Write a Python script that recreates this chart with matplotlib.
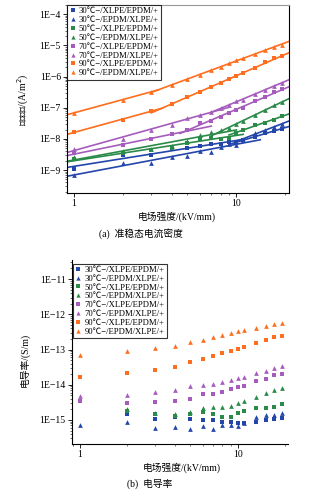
import numpy as np
import matplotlib
matplotlib.use('Agg')
import matplotlib.pyplot as plt
from matplotlib.ticker import FixedLocator, FuncFormatter, LogLocator, NullFormatter

plt.rcParams['font.family'] = ['Liberation Serif', 'Noto Sans CJK SC']
plt.rcParams['axes.unicode_minus'] = True

# 电场强度 kV/mm
campo = [1, 2, 3, 4, 5, 6, 7, 8, 9, 10, 11, 13, 15, 17, 19]

rotulos = ['30℃−/XLPE/EPDM/+', '30℃−/EPDM/XLPE/+',
           '50℃−/XLPE/EPDM/+', '50℃−/EPDM/XLPE/+',
           '70℃−/XLPE/EPDM/+', '70℃−/EPDM/XLPE/+',
           '90℃−/XLPE/EPDM/+', '90℃−/EPDM/XLPE/+']

# (a) 准稳态电流密度 A/m^2
j30_xe = [1.05e-9, 3.0e-9, 3.15e-9, 4.8e-9, 5.25e-9, 6.0e-9, 7.0e-9, 6.9e-9, 7.7e-9, 8.0e-9, 9.2e-9, 1.12e-8, 1.5e-8, 1.85e-8, 2.13e-8]
j30_ex = [7.2e-10, 1.74e-9, 1.74e-9, 2.56e-9, 2.85e-9, 4.1e-9, 3.85e-9, 5.7e-9, 6.7e-9, 6.6e-9, 9.2e-9, 1.6e-8, 2.0e-8, 2.36e-8, 2.95e-8]
j50_xe = [2.2e-9, 3.5e-9, 4.35e-9, 5.2e-9, 7.25e-9, 9.9e-9, 1.04e-8, 9.6e-9, 1.1e-8, 1.55e-8, 2.0e-8, 2.8e-8, 3.35e-8, 4.1e-8, 5.4e-8]
j50_ex = [2.7e-9, 4.0e-9, 4.8e-9, 5.8e-9, 8.5e-9, 1.32e-8, 1.68e-8, 1.92e-8, 2.25e-8, 3.0e-8, 3.8e-8, 5.7e-8, 8.55e-8, 1.2e-7, 1.54e-7]
j70_xe = [3.5e-9, 6.2e-9, 9.6e-9, 1.4e-8, 2.0e-8, 3.3e-8, 3.9e-8, 4.9e-8, 6.7e-8, 8.5e-8, 1.01e-7, 1.64e-7, 2.25e-7, 3.2e-7, 3.9e-7]
j70_ex = [4.9e-9, 1.02e-8, 1.9e-8, 2.85e-8, 4.55e-8, 5.9e-8, 7.35e-8, 9.6e-8, 1.26e-7, 1.6e-7, 1.8e-7, 2.85e-7, 3.75e-7, 5.1e-7, 6.3e-7]
j90_xe = [1.63e-8, 4.2e-8, 7.95e-8, 1.28e-7, 2.15e-7, 3.2e-7, 4.55e-7, 6.3e-7, 8.1e-7, 1.04e-6, 1.28e-6, 1.95e-6, 2.9e-6, 4.0e-6, 4.6e-6]
j90_ex = [6.9e-8, 1.8e-7, 3.3e-7, 5.2e-7, 8.3e-7, 1.15e-6, 1.6e-6, 2.1e-6, 2.65e-6, 3.3e-6, 3.9e-6, 5.5e-6, 7.2e-6, 9.1e-6, 1.05e-5]

# (b) 电导率 S/m (nan = ponto não visível)
s30_xe = [np.nan, 1.5e-15, 1.05e-15, 1.2e-15, 1.05e-15, 1.0e-15, 1.0e-15, 8.6e-16, 8.6e-16, 8.0e-16, 8.4e-16, 8.6e-16, 1.0e-15, 1.09e-15, 1.12e-15]
s30_ex = [7.2e-16, 8.7e-16, 5.8e-16, 6.4e-16, 5.7e-16, 6.9e-16, 5.5e-16, 7.1e-16, 7.4e-16, 6.6e-16, 8.4e-16, 1.24e-15, 1.36e-15, 1.39e-15, 1.55e-15]
s50_xe = [np.nan, 1.75e-15, 1.45e-15, 1.3e-15, 1.45e-15, 1.65e-15, 1.48e-15, 1.2e-15, 1.22e-15, 1.55e-15, 1.84e-15, 2.15e-15, 2.23e-15, 2.4e-15, 2.84e-15]
s50_ex = [np.nan, 2.0e-15, 1.6e-15, 1.45e-15, 1.7e-15, 2.2e-15, 2.4e-15, 2.4e-15, 2.5e-15, 3.0e-15, 3.45e-15, 4.4e-15, 5.7e-15, 7.1e-15, 8.1e-15]
s70_xe = [3.5e-15, 3.1e-15, 3.2e-15, 3.5e-15, 4.0e-15, 5.5e-15, 5.6e-15, 6.1e-15, 7.4e-15, 8.5e-15, 9.2e-15, 1.26e-14, 1.5e-14, 1.9e-14, 2.04e-14]
s70_ex = [4.9e-15, 5.1e-15, 6.3e-15, 7.1e-15, 9.1e-15, 9.9e-15, 1.05e-14, 1.2e-14, 1.4e-14, 1.6e-14, 1.65e-14, 2.2e-14, 2.5e-14, 3.0e-14, 3.3e-14]
s90_xe = [1.63e-14, 2.1e-14, 2.65e-14, 3.2e-14, 4.3e-14, 5.3e-14, 6.5e-14, 7.9e-14, 9.0e-14, 1.04e-13, 1.16e-13, 1.5e-13, 1.92e-13, 2.34e-13, 2.44e-13]
s90_ex = [6.9e-14, 9.0e-14, 1.1e-13, 1.3e-13, 1.66e-13, 1.92e-13, 2.28e-13, 2.6e-13, 2.95e-13, 3.3e-13, 3.55e-13, 4.2e-13, 4.8e-13, 5.35e-13, 5.5e-13]

cores = ['#2346aa', '#2346aa', '#2a8a48', '#2a8a48', '#a65cbc', '#a65cbc', '#ff6e1e', '#ff6e1e']
marcadores = ['s', '^'] * 4

J = [j30_xe, j30_ex, j50_xe, j50_ex, j70_xe, j70_ex, j90_xe, j90_ex]
S = [s30_xe, s30_ex, s50_xe, s50_ex, s70_xe, s70_ex, s90_xe, s90_ex]

# ajuste em dois trechos: (campo de quebra, fim do 1º trecho, início do 2º trecho)
trechos = [(10, 11, 9), (11, 14, 10), (10, 11, 9), (8, 10, 7),
           (5, 7, 4.5), (8, 9, 7), (3, 3.5, 3), (3, 3.3, 3)]

x = np.array(campo, dtype=float)
XMIN, XMAX = 0.91, 21


def fmt_y(v, pos):
    n = int(round(np.log10(v)))
    return '1E−%d' % (-n)


def estilo(ax):
    ax.set_xscale('log')
    ax.set_yscale('log')
    ax.xaxis.set_major_locator(FixedLocator([1, 10]))
    ax.xaxis.set_major_formatter(FuncFormatter(lambda v, p: '%d' % v))
    ax.xaxis.set_minor_locator(LogLocator(base=10, subs=np.arange(2, 10)))
    ax.xaxis.set_minor_formatter(NullFormatter())
    ax.yaxis.set_major_formatter(FuncFormatter(fmt_y))
    ax.yaxis.set_minor_locator(LogLocator(base=10, subs=np.arange(2, 10)))
    ax.yaxis.set_minor_formatter(NullFormatter())
    ax.tick_params(which='major', direction='out', length=3, width=0.6, labelsize=7, pad=1.5)
    ax.tick_params(which='minor', direction='out', length=1.5, width=0.4)
    for s in ax.spines.values():
        s.set_linewidth(0.8)


def legenda(ax, **kw):
    lg = ax.legend(loc='upper left', fontsize=6.2, frameon=True, fancybox=False,
                   edgecolor='black', borderpad=0.25, labelspacing=0.1,
                   handletextpad=0.3, handlelength=0.8, markerscale=0.9, **kw)
    lg.get_frame().set_linewidth(0.8)
    return lg


fig = plt.figure(figsize=(3.21, 4.97), dpi=100)

# ---------- (a) ----------
ax1 = fig.add_axes([0.209, 0.612, 0.691, 0.378])
for i in range(8):
    yi = np.array(J[i])
    ax1.plot(x, yi, marcadores[i], color=cores[i], ms=3.4, mew=0, label=rotulos[i], zorder=3)
    xb, fim1, ini2 = trechos[i]
    lo = x <= xb
    hi = x >= xb
    c1 = np.polyfit(np.log10(x[lo]), np.log10(yi[lo]), 1)
    c2 = np.polyfit(np.log10(x[hi]), np.log10(yi[hi]), 1)
    xs1 = np.array([XMIN, fim1])
    xs2 = np.array([ini2, XMAX])
    ax1.plot(xs1, 10 ** np.polyval(c1, np.log10(xs1)), '-', color=cores[i], lw=1.2, zorder=2)
    ax1.plot(xs2, 10 ** np.polyval(c2, np.log10(xs2)), '-', color=cores[i], lw=1.2, zorder=2)
estilo(ax1)
ax1.set_xlim(XMIN, XMAX)
ax1.set_ylim(1.86e-10, 2e-4)
ax1.yaxis.set_major_locator(FixedLocator([1e-9, 1e-8, 1e-7, 1e-6, 1e-5, 1e-4]))
ax1.spines['top'].set_color('#999999')
legenda(ax1, borderaxespad=0)
fig.text(0.072, 0.80, '电流密度/(A/m$^2$)', rotation=90, ha='center', va='center', fontsize=7)
fig.text(0.55, 0.563, '电场强度/(kV/mm)', ha='center', va='center', fontsize=7)
fig.text(0.44, 0.531, '(a)  准稳态电流密度', ha='center', va='center', fontsize=7)

# ---------- (b) ----------
ax2 = fig.add_axes([0.224, 0.107, 0.673, 0.370])
for i in range(8):
    ax2.plot(x, S[i], marcadores[i], color=cores[i], ms=3.4, mew=0, label=rotulos[i])
estilo(ax2)
ax2.set_xlim(0.89, 20.8)
ax2.set_ylim(2.1e-16, 3.5e-11)
ax2.yaxis.set_major_locator(FixedLocator([1e-15, 1e-14, 1e-13, 1e-12, 1e-11]))
ax2.spines['top'].set_visible(False)
ax2.spines['right'].set_visible(False)
legenda(ax2, borderaxespad=0.1, bbox_to_anchor=(0.0, 0.985))
fig.text(0.078, 0.275, '电导率/(S/m)', rotation=90, ha='center', va='center', fontsize=7)
fig.text(0.565, 0.058, '电场强度/(kV/mm)', ha='center', va='center', fontsize=7)
fig.text(0.465, 0.026, '(b)  电导率', ha='center', va='center', fontsize=7)

fig.savefig('out.png', dpi=100)
